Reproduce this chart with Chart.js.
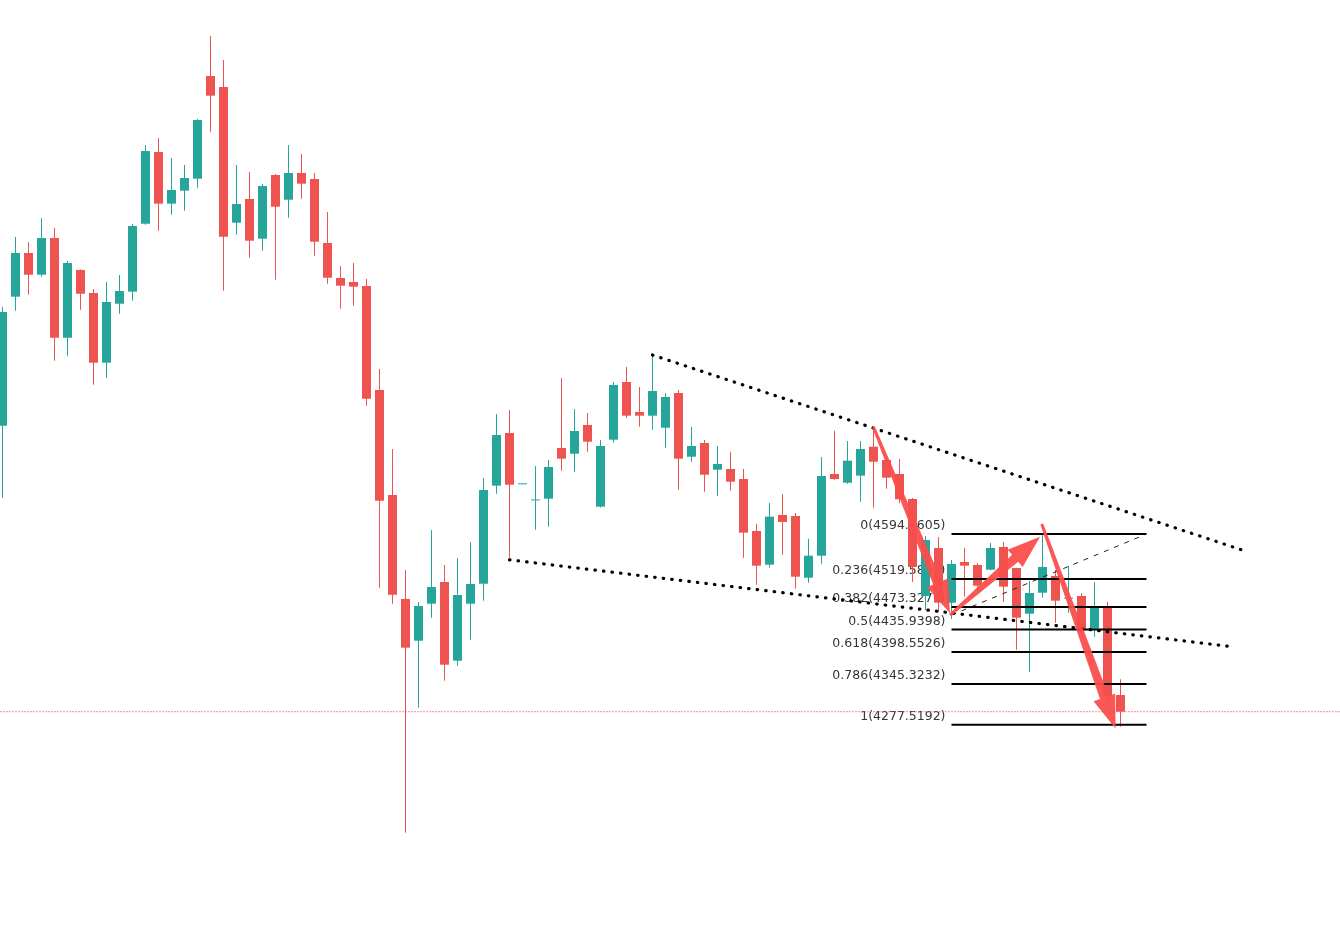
<!DOCTYPE html>
<html>
<head>
<meta charset="utf-8">
<script src="https://cdn.jsdelivr.net/npm/chart.js@4/dist/chart.umd.min.js"></script>
<style>
  html, body { margin: 0; padding: 0; background: #ffffff; }
  #wrap { width: 1340px; height: 935px; position: relative; }
</style>
</head>
<body>
<div id="wrap"><canvas id="c"></canvas></div>
<script>
// ---- candle data (price) ----
const opens = [
  4774.3, 4988.7, 5061.3, 5025.2, 5086.2, 4920.5, 5033.0, 4994.8, 4879.0, 4977.0,
  4997.0, 5109.9, 5229.1, 5143.2, 5164.8, 5184.7, 5355.3, 5337.1, 5111.6, 5151.0,
  5085.0, 5190.9, 5149.8, 5194.2, 5184.2, 5077.9, 5019.7, 5013.1, 5006.4, 4833.7,
  4659.2, 4486.4, 4417.1, 4478.6, 4514.7, 4383.9, 4478.6, 4511.8, 4674.7, 4762.2,
  4677.0, 4650.2, 4653.1, 4737.3, 4727.8, 4775.5, 4639.8, 4751.1, 4847.0, 4797.1,
  4791.0, 4771.0, 4828.7, 4722.8, 4745.6, 4701.2, 4702.4, 4685.8, 4599.4, 4543.4,
  4626.0, 4624.3, 4521.8, 4558.4, 4694.1, 4679.6, 4691.3, 4739.5, 4717.4, 4694.1,
  4652.6, 4491.4, 4571.2, 4480.3, 4547.9, 4542.9, 4535.1, 4572.8, 4537.9, 4462.0,
  4496.9, 4524.6, 4487.0, 4491.4, 4437.1, 4474.8, 4326.9
];
const highs = [
  4971.5, 5087.9, 5079.5, 5119.4, 5102.8, 5048.0, 5034.0, 5001.5, 5013.1, 5024.7,
  5109.4, 5240.7, 5252.3, 5219.1, 5207.5, 5283.9, 5421.8, 5381.9, 5207.5, 5195.8,
  5175.9, 5192.5, 5240.7, 5225.7, 5194.2, 5129.4, 5039.7, 5044.6, 5018.1, 4868.5,
  4735.6, 4534.6, 4481.4, 4601.1, 4542.9, 4554.5, 4581.1, 4687.4, 4793.8, 4800.4,
  4677.3, 4707.4, 4717.4, 4853.6, 4802.1, 4795.4, 4750.6, 4847.0, 4871.9, 4838.6,
  4891.8, 4828.7, 4833.7, 4772.2, 4750.6, 4740.6, 4731.2, 4702.4, 4611.0, 4645.9,
  4660.9, 4629.3, 4586.6, 4722.3, 4766.0, 4748.9, 4748.9, 4772.2, 4720.7, 4719.0,
  4654.2, 4591.1, 4589.4, 4551.2, 4571.2, 4546.2, 4579.5, 4581.1, 4538.5, 4516.3,
  4594.4, 4534.6, 4541.2, 4496.4, 4514.7, 4481.9, 4353.0
];
const lows = [
  4654.7, 4965.4, 4992.0, 5021.9, 4882.3, 4890.6, 4967.1, 4842.5, 4854.1, 4960.4,
  4982.0, 5108.0, 5098.3, 5124.9, 5131.5, 5169.8, 5262.8, 4998.6, 5091.7, 5053.5,
  5065.1, 5016.9, 5119.9, 5151.5, 5056.8, 5010.3, 4968.7, 4973.7, 4807.6, 4505.2,
  4478.6, 4098.2, 4305.8, 4455.4, 4350.7, 4375.6, 4418.8, 4483.6, 4661.4, 4555.0,
  4677.0, 4601.6, 4606.5, 4699.6, 4697.9, 4731.2, 4638.5, 4746.1, 4787.6, 4772.7,
  4767.7, 4737.8, 4668.0, 4714.5, 4664.7, 4658.0, 4666.4, 4555.0, 4510.2, 4538.4,
  4560.0, 4503.5, 4513.5, 4545.1, 4684.6, 4678.0, 4648.1, 4638.1, 4669.7, 4645.4,
  4514.7, 4468.2, 4465.3, 4453.2, 4490.2, 4501.4, 4534.6, 4481.9, 4402.2, 4365.6,
  4488.6, 4447.0, 4463.7, 4431.0, 4423.8, 4318.6, 4274.3
];
const closes = [
  4963.2, 5061.3, 5025.2, 5086.2, 4920.5, 5044.6, 4993.6, 4879.0, 4979.9, 4998.1,
  5106.1, 5230.7, 5143.2, 5165.9, 5185.9, 5282.2, 5322.6, 5088.4, 5142.7, 5081.7,
  5172.6, 5138.2, 5194.2, 5176.4, 5080.0, 5020.2, 5006.9, 5005.3, 4819.2, 4649.7,
  4493.6, 4405.5, 4474.8, 4506.4, 4377.3, 4493.1, 4511.3, 4667.5, 4758.9, 4676.3,
  4677.3, 4650.6, 4705.7, 4719.5, 4765.5, 4747.8, 4740.6, 4842.0, 4791.0, 4791.0,
  4832.0, 4822.0, 4719.5, 4740.6, 4692.9, 4710.7, 4681.3, 4596.6, 4541.8, 4623.2,
  4614.4, 4523.5, 4558.4, 4690.8, 4685.8, 4716.2, 4735.6, 4714.5, 4688.0, 4652.1,
  4539.6, 4584.4, 4480.3, 4544.6, 4541.8, 4508.5, 4571.2, 4506.9, 4455.4, 4496.4,
  4539.6, 4483.6, 4488.2, 4433.8, 4474.8, 4325.3, 4299.2
];

// ---- drawings ----
const upperTrendX = [50, 95.58];
const upperTrendY = [4891.8, 4566.2];
const lowerTrendX = [39, 94.75];
const lowerTrendY = [4551.5, 4406.7];
const fibDiagX = [73, 88];
const fibDiagY = [4459.8, 4594.3605];
const fibLevels = [0, 0.236, 0.382, 0.5, 0.618, 0.786, 1];
const fibPrices = [4594.3605, 4519.5860, 4473.3271, 4435.9398, 4398.5526, 4345.3232, 4277.5192];
const fibStartX = 73;
const fibEndX = 88;
// arrows in (bar index, price)
const arrowStartX = [67, 72.88, 79.94];
const arrowStartY = [4772.2, 4459.8, 4611.0];
const arrowEndX = [72.88, 79.81, 85.62];
const arrowEndY = [4462.7, 4590.0, 4271.3];

const UP = '#26a69a';
const DOWN = '#ef5350';

const idx = opens.map((_, i) => i);
const colors = idx.map(i => closes[i] >= opens[i] ? UP : DOWN);
const lastClose = closes[closes.length - 1];

const datasets = [];
datasets.push({
  type: 'line', label: 'upper', order: 1,
  data: upperTrendX.map((x, i) => ({ x, y: upperTrendY[i] })),
  borderColor: '#000', borderWidth: 3.2, borderDash: [0.5, 8.1], borderCapStyle: 'round',
  pointRadius: 0, fill: false, tension: 0
});
datasets.push({
  type: 'line', label: 'lower', order: 1,
  data: lowerTrendX.map((x, i) => ({ x, y: lowerTrendY[i] })),
  borderColor: '#000', borderWidth: 3.2, borderDash: [0.5, 8.1], borderCapStyle: 'round',
  pointRadius: 0, fill: false, tension: 0
});
datasets.push({
  type: 'line', label: 'fibdiag', order: 2,
  data: fibDiagX.map((x, i) => ({ x, y: fibDiagY[i] })),
  borderColor: '#222', borderWidth: 1, borderDash: [5, 6],
  pointRadius: 0, fill: false, tension: 0
});
fibPrices.forEach((p, i) => {
  datasets.push({
    type: 'line', label: 'fib' + fibLevels[i], order: 2,
    data: [{ x: fibStartX, y: p }, { x: fibEndX, y: p }],
    borderColor: '#000', borderWidth: 2, pointRadius: 0, fill: false, tension: 0
  });
});
datasets.push({
  type: 'bar', label: 'body', order: 3, grouped: false,
  data: idx.map(i => ({ x: i, y: [opens[i], closes[i]] })),
  backgroundColor: colors, borderWidth: 0, barThickness: 9, minBarLength: 1, inflateAmount: 0
});
datasets.push({
  type: 'bar', label: 'wick', order: 4, grouped: false,
  data: idx.map(i => ({ x: i, y: [lows[i], highs[i]] })),
  backgroundColor: colors, borderWidth: 0, barThickness: 1, inflateAmount: 0
});
datasets.push({
  type: 'line', label: 'price', order: 5,
  data: [{ x: -2, y: lastClose }, { x: 105, y: lastClose }],
  borderColor: DOWN, borderWidth: 1.3, borderDash: [1, 2],
  pointRadius: 0, fill: false, tension: 0
});

const fibLabelPlugin = {
  id: 'fibLabels',
  beforeDatasetsDraw(chart) {
    const { ctx, scales: { x, y } } = chart;
    ctx.save();
    ctx.font = '12.5px "DejaVu Sans"';
    ctx.fillStyle = '#363636';
    ctx.textAlign = 'right';
    ctx.textBaseline = 'middle';
    const px = x.getPixelForValue(fibStartX) - 6;
    fibPrices.forEach((p, i) => {
      ctx.fillText(String(fibLevels[i]) + '(' + p.toFixed(4) + ')', px, y.getPixelForValue(p) - 8);
    });
    ctx.restore();
  }
};

const arrowPlugin = {
  id: 'arrows',
  afterDatasetsDraw(chart) {
    const { ctx, scales: { x, y } } = chart;
    ctx.save();
    ctx.fillStyle = 'rgba(250, 76, 74, 0.94)';
    arrowStartX.forEach((_, i) => {
      const x1 = x.getPixelForValue(arrowStartX[i]), y1 = y.getPixelForValue(arrowStartY[i]);
      const x2 = x.getPixelForValue(arrowEndX[i]), y2 = y.getPixelForValue(arrowEndY[i]);
      const dx = x2 - x1, dy = y2 - y1, len = Math.hypot(dx, dy);
      const ux = dx / len, uy = dy / len, nx = -uy, ny = ux;
      const headLen = 33, headW = 11.5, w0 = 1.5, w1 = 4.6;
      const bx = x2 - ux * headLen, by = y2 - uy * headLen;
      ctx.beginPath();
      ctx.moveTo(x1 + nx * w0, y1 + ny * w0);
      ctx.lineTo(bx + nx * w1, by + ny * w1);
      ctx.lineTo(bx + nx * headW, by + ny * headW);
      ctx.lineTo(x2, y2);
      ctx.lineTo(bx - nx * headW, by - ny * headW);
      ctx.lineTo(bx - nx * w1, by - ny * w1);
      ctx.lineTo(x1 - nx * w0, y1 - ny * w0);
      ctx.closePath();
      ctx.fill();
    });
    ctx.restore();
  }
};

new Chart(document.getElementById('c'), {
  type: 'bar',
  data: { datasets },
  options: {
    responsive: true,
    maintainAspectRatio: false,
    animation: false,
    events: [],
    layout: { padding: 0 },
    plugins: { legend: { display: false }, tooltip: { enabled: false }, title: { display: false } },
    scales: {
      x: { type: 'linear', display: false, offset: false, min: -2.5 / 13, max: -2.5 / 13 + 1340 / 13,
           grid: { display: false } },
      y: { type: 'linear', display: false, min: 3928.2, max: 5481.6, grid: { display: false } }
    }
  },
  plugins: [fibLabelPlugin, arrowPlugin]
});
</script>
</body>
</html>
